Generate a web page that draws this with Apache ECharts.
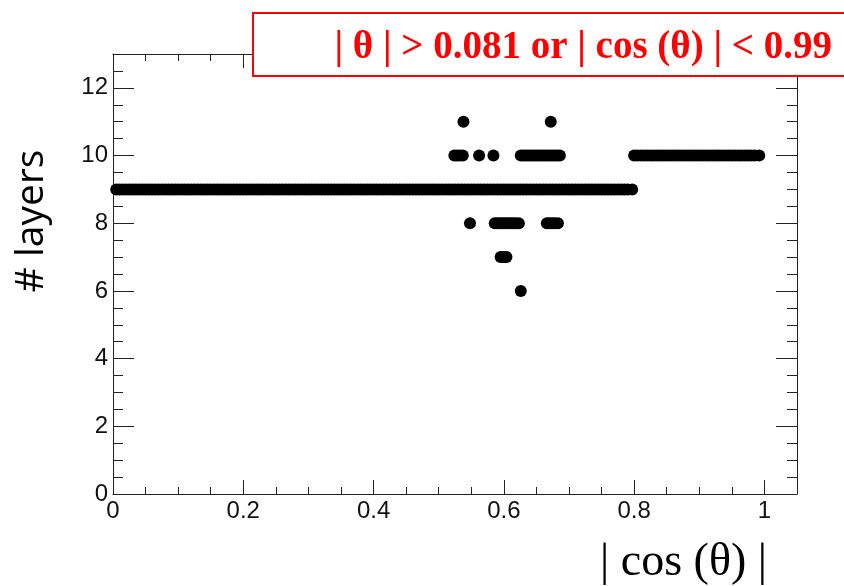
<!DOCTYPE html>
<html>
<head>
<meta charset="utf-8">
<script src="https://cdn.jsdelivr.net/npm/echarts@6/dist/echarts.min.js"></script>
<style>
  html, body { margin: 0; padding: 0; background: #fff; }
  #chart { width: 844px; height: 586px; }
</style>
</head>
<body>
<div id="chart"></div>
<script>
  // |cos(theta)| positions of the hits, grouped by number of layers
  var layers6 = [0.626]
  var layers7 = [0.595, 0.598, 0.601, 0.604]
  var layers8 = [0.548, 0.586, 0.590, 0.594, 0.598, 0.602, 0.606, 0.610, 0.614, 0.618, 0.623,
    0.666, 0.670, 0.674, 0.678, 0.683]
  var layers9 = [
    0.005, 0.010, 0.015, 0.020, 0.025, 0.030, 0.035, 0.040, 0.045, 0.050,
    0.055, 0.060, 0.065, 0.070, 0.075, 0.080, 0.085, 0.090, 0.095, 0.100,
    0.105, 0.110, 0.115, 0.120, 0.125, 0.130, 0.135, 0.140, 0.145, 0.150,
    0.155, 0.160, 0.165, 0.170, 0.175, 0.180, 0.185, 0.190, 0.195, 0.200,
    0.205, 0.210, 0.215, 0.220, 0.225, 0.230, 0.235, 0.240, 0.245, 0.250,
    0.255, 0.260, 0.265, 0.270, 0.275, 0.280, 0.285, 0.290, 0.295, 0.300,
    0.305, 0.310, 0.315, 0.320, 0.325, 0.330, 0.335, 0.340, 0.345, 0.350,
    0.355, 0.360, 0.365, 0.370, 0.375, 0.380, 0.385, 0.390, 0.395, 0.400,
    0.405, 0.410, 0.415, 0.420, 0.425, 0.430, 0.435, 0.440, 0.445, 0.450,
    0.455, 0.460, 0.465, 0.470, 0.475, 0.480, 0.485, 0.490, 0.495, 0.500,
    0.505, 0.510, 0.515, 0.520, 0.525, 0.530, 0.535, 0.540, 0.545, 0.550,
    0.555, 0.560, 0.565, 0.570, 0.575, 0.580, 0.585, 0.590, 0.595, 0.600,
    0.605, 0.610, 0.615, 0.620, 0.625, 0.630, 0.635, 0.640, 0.645, 0.650,
    0.655, 0.660, 0.665, 0.670, 0.675, 0.680, 0.685, 0.690, 0.695, 0.700,
    0.705, 0.710, 0.715, 0.720, 0.725, 0.730, 0.735, 0.740, 0.745, 0.750,
    0.755, 0.760, 0.765, 0.770, 0.775, 0.780, 0.785, 0.790, 0.797,
  ]
  var layers10 = [
    0.524, 0.528, 0.532, 0.537, 0.562, 0.584,
    0.626, 0.630, 0.634, 0.638, 0.642, 0.646, 0.650, 0.654, 0.658, 0.662,
    0.666, 0.670, 0.674, 0.678, 0.682, 0.686,
    0.800, 0.805, 0.810, 0.815, 0.820, 0.825, 0.830, 0.835, 0.840, 0.845,
    0.850, 0.855, 0.860, 0.865, 0.870, 0.875, 0.880, 0.885, 0.890, 0.895,
    0.900, 0.905, 0.910, 0.915, 0.920, 0.925, 0.930, 0.935, 0.940, 0.945,
    0.950, 0.955, 0.960, 0.965, 0.970, 0.975, 0.980, 0.985, 0.992,
  ]
  var layers11 = [0.538, 0.672]

  var xMajor = [0, 0.2, 0.4, 0.6, 0.8, 1]
  var yMajor = [0, 2, 4, 6, 8, 10, 12]

  var xMinor = []
  for (var i = 1; i < 20; i++) {
    if (i % 4 !== 0) xMinor.push(i * 0.05)
  }
  var yMinor = []
  for (var j = 1; j < 26; j++) {
    if (j % 4 !== 0) yMinor.push(j * 0.5)
  }

  var points = []
  var groups = [[6, layers6], [7, layers7], [8, layers8], [9, layers9], [10, layers10], [11, layers11]]
  for (var g of groups) {
    for (var x of g[1]) {
      points.push([x, g[0]])
    }
  }

  var lineColor = '#222'
  var labelStyle = {
    color: '#111',
    fontSize: 24,
    fontFamily: 'Liberation Sans, Arial, sans-serif',
  }

  function xAx (pos, ticks, len, withLine, withLabel) {
    return {
      type: 'value',
      position: pos,
      min: 0,
      max: 1.05,
      axisLine: { show: withLine, onZero: false, lineStyle: { color: lineColor, width: 1 } },
      axisTick: { show: true, inside: true, length: len, customValues: ticks, lineStyle: { color: lineColor } },
      axisLabel: Object.assign({ show: withLabel, margin: 5, customValues: xMajor }, labelStyle),
      splitLine: { show: false },
    }
  }
  function yAx (pos, ticks, len, withLine, withLabel) {
    return {
      type: 'value',
      position: pos,
      min: 0,
      max: 13,
      axisLine: { show: withLine, onZero: false, lineStyle: { color: lineColor, width: 1 } },
      axisTick: { show: true, inside: true, length: len, customValues: ticks, lineStyle: { color: lineColor } },
      axisLabel: Object.assign({ show: withLabel, margin: 5, customValues: yMajor }, labelStyle),
      splitLine: { show: false },
    }
  }

  var myChart = echarts.init(document.getElementById('chart'))
  var option = {
    backgroundColor: '#fff',
    animation: false,
    grid: {
      left: 113,
      right: 47,
      top: 54,
      bottom: 92,
    },
    xAxis: [
      xAx('bottom', xMajor, 14, true, true),
      xAx('bottom', xMinor, 7, false, false),
      xAx('top', xMajor, 14, true, false),
      xAx('top', xMinor, 7, false, false),
    ],
    yAxis: [
      yAx('left', yMajor, 21, true, true),
      yAx('left', yMinor, 10, false, false),
      yAx('right', yMajor, 21, true, false),
      yAx('right', yMinor, 10, false, false),
    ],
    series: [
      {
        type: 'scatter',
        xAxisIndex: 0,
        yAxisIndex: 0,
        symbol: 'circle',
        symbolSize: 12,
        itemStyle: { color: '#000', opacity: 1 },
        data: points,
      },
    ],
    graphic: [
      {
        type: 'rect',
        z: 100,
        shape: { x: 253, y: 13, width: 620, height: 63 },
        style: { fill: '#fff', stroke: '#f00', lineWidth: 2 },
      },
      {
        type: 'text',
        z: 101,
        x: 832,
        y: 48,
        style: {
          text: '| θ | > 0.081 or | cos (θ) | < 0.99',
          fill: '#f00',
          font: 'bold 39px "Liberation Serif", "Times New Roman", serif',
          align: 'right',
          verticalAlign: 'middle',
        },
      },
      {
        type: 'text',
        x: 32,
        y: 221,
        rotation: Math.PI / 2,
        style: {
          text: '# layers',
          fill: '#000',
          font: '39px "Open Sans", "Noto Sans", sans-serif',
          align: 'center',
          verticalAlign: 'middle',
        },
      },
      {
        type: 'text',
        x: 767,
        y: 563,
        style: {
          text: '| cos (θ) |',
          fill: '#000',
          font: '46px "Liberation Serif", "Times New Roman", serif',
          align: 'right',
          verticalAlign: 'middle',
        },
      },
    ],
  }
  myChart.setOption(option)
</script>
</body>
</html>
